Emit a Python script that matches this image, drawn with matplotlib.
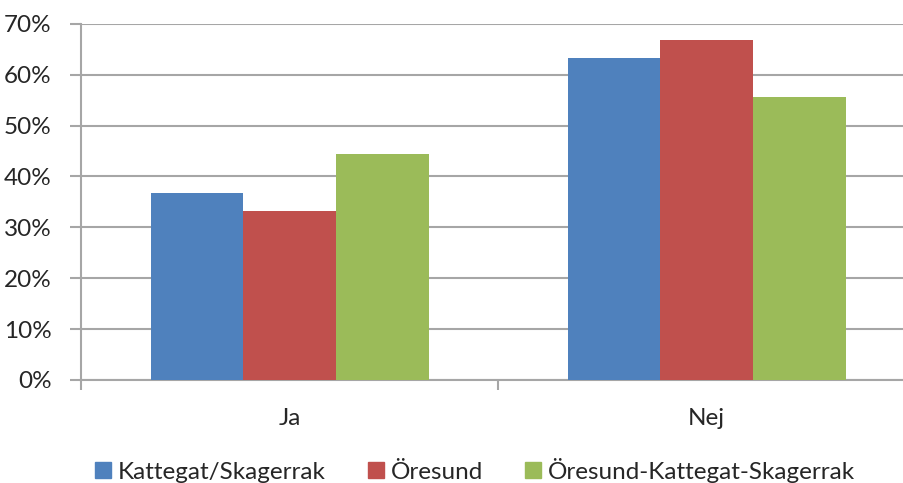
import matplotlib.pyplot as plt
import numpy as np
from matplotlib.patches import Patch
from matplotlib.ticker import FixedLocator, PercentFormatter

plt.rcParams['font.family'] = ['Lato', 'DejaVu Sans']

categories = ['Ja', 'Nej']
series_names = ['Kattegat/Skagerrak', 'Öresund', 'Öresund-Kattegat-Skagerrak']
kattegat = [36.7, 63.3]
oresund = [33.3, 66.7]
oresund_kattegat = [44.4, 55.6]
colors = ['#4F81BD', '#C0504D', '#9BBB59']

text_col = '#262626'
grid_col = '#A6A6A6'
fs = 17.5

fig = plt.figure(figsize=(9.04, 4.83), dpi=100)
ax = fig.add_axes([81/904, 103/483, 834/904, 356.3/483])

x = np.arange(len(categories))
w = 1/4.5  # gap width 150%
for i, vals in enumerate([kattegat, oresund, oresund_kattegat]):
    ax.bar(x + (i - 1) * w, vals, width=w, color=colors[i], zorder=3)

ax.set_xlim(-0.5, 1.5)
ax.set_ylim(0, 70)
ax.set_yticks(np.arange(0, 71, 10))
ax.yaxis.set_major_formatter(PercentFormatter(decimals=0))
ax.yaxis.grid(True, color=grid_col, linewidth=1.5, zorder=0)

ax.set_xticks(x)
ax.set_xticklabels(categories)
ax.xaxis.set_minor_locator(FixedLocator([-0.5, 0.5, 1.5]))
ax.tick_params(axis='x', which='major', length=0, pad=20, labelsize=fs, labelcolor=text_col)
ax.tick_params(axis='x', which='minor', length=7, width=1.5, color=grid_col)
ax.tick_params(axis='y', length=8, width=1.5, color=grid_col, pad=13, labelsize=fs, labelcolor=text_col)

for side in ['top', 'right']:
    ax.spines[side].set_visible(False)
for side in ['left', 'bottom']:
    ax.spines[side].set_color(grid_col)
    ax.spines[side].set_linewidth(1.5)

handles = [Patch(color=c, label=n) for c, n in zip(colors, series_names)]
fig.legend(handles=handles, loc='lower left', bbox_to_anchor=(73/904, -0.045), ncol=3,
           frameon=False, fontsize=fs, handlelength=0.65, handleheight=0.65,
           handletextpad=0.3, columnspacing=1.73, labelcolor=text_col)

fig.savefig('out.png', dpi=100)
